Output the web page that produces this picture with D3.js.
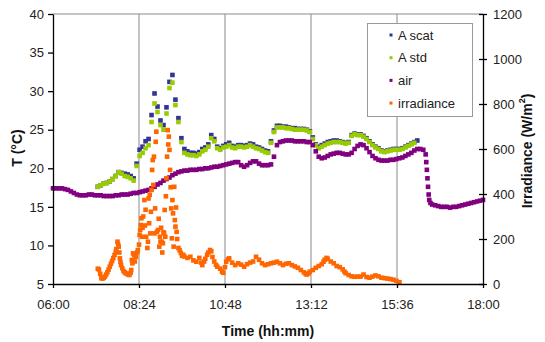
<!DOCTYPE html>
<html>
<head>
<meta charset="utf-8">
<script src="https://cdn.jsdelivr.net/npm/d3@7"></script>
<style>
  html, body { margin: 0; padding: 0; background: #fff; }
  svg { display: block; font-family: "Liberation Sans", Arial, sans-serif; }
</style>
</head>
<body>
<svg id="chart" width="545" height="342"></svg>
<script>
// ---- axis ticks ----
const timeTicks = ["06:00", "08:24", "10:48", "13:12", "15:36", "18:00"];
const tempTicks = [5, 10, 15, 20, 25, 30, 35, 40];
const irrTicks = [0, 200, 400, 600, 800, 1000, 1200];
const seriesNames = ["A scat", "A std", "air", "irradiance"];
const seriesColors = ["#333399", "#99CC00", "#800080", "#FF6600"];

// ---- logged readings: [time, value] ----
const aScat = [
  ["07:15",17.6],["07:20",17.8],["07:25",18.0],["07:30",18.1],["07:35",18.3],["07:40",18.6],["07:45",19.0],["07:50",19.5],
  ["07:55",19.4],["08:00",19.3],["08:05",19.2],["08:10",19.0],["08:15",18.7],["08:20",20.6],["08:25",22.4],["08:30",22.8],
  ["08:35",23.5],["08:40",23.8],["08:45",26.9],["08:50",29.7],["08:55",28.0],["09:00",26.2],["09:05",25.6],["09:10",27.9],
  ["09:15",31.2],["09:20",32.1],["09:25",28.9],["09:30",26.5],["09:35",23.9],["09:40",22.5],["09:45",22.2],["09:50",22.0],
  ["09:55",22.0],["10:00",21.9],["10:05",22.1],["10:10",22.5],["10:15",22.7],["10:20",23.1],["10:25",24.3],["10:30",23.8],
  ["10:35",22.8],["10:40",22.6],["10:45",22.9],["10:50",23.1],["10:55",23.3],["11:00",22.9],["11:05",22.8],["11:10",23.0],
  ["11:15",23.0],["11:20",22.9],["11:25",23.0],["11:30",23.2],["11:35",23.1],["11:40",22.8],["11:45",22.7],["11:50",22.5],
  ["11:55",22.3],["12:00",22.2],["12:05",23.5],["12:10",24.9],["12:15",25.5],["12:20",25.5],["12:25",25.4],["12:30",25.4],
  ["12:35",25.3],["12:40",25.2],["12:45",25.2],["12:50",25.1],["12:55",25.1],["13:00",25.1],["13:05",25.0],["13:10",24.8],
  ["13:15",24.0],["13:20",23.1],["13:25",22.8],["13:30",23.0],["13:35",23.2],["13:40",23.4],["13:45",23.5],["13:50",23.6],
  ["13:55",23.6],["14:00",23.5],["14:05",23.4],["14:10",23.3],["14:15",23.4],["14:20",24.3],["14:25",24.5],["14:30",24.4],
  ["14:35",24.4],["14:40",24.2],["14:45",23.9],["14:50",23.5],["14:55",23.1],["15:00",22.8],["15:05",22.6],["15:10",22.3],
  ["15:15",22.2],["15:20",22.3],["15:25",22.4],["15:30",22.5],["15:35",22.5],["15:40",22.5],["15:45",22.6],["15:50",22.8],
  ["15:55",23.0],["16:00",23.2],["16:05",23.4],["16:10",23.6]
];

const aStd = [
  ["07:15",17.6],["07:20",17.8],["07:25",18.0],["07:30",18.1],["07:35",18.3],["07:40",18.6],["07:45",19.0],["07:50",19.5],
  ["07:55",19.3],["08:00",19.0],["08:05",18.9],["08:10",18.7],["08:15",18.4],["08:20",20.3],["08:25",21.6],["08:30",22.0],
  ["08:35",22.6],["08:40",23.0],["08:45",26.0],["08:50",28.4],["08:55",27.3],["09:00",25.6],["09:05",25.0],["09:10",27.1],
  ["09:15",30.4],["09:20",31.1],["09:25",28.2],["09:30",26.0],["09:35",23.4],["09:40",22.0],["09:45",21.8],["09:50",21.7],
  ["09:55",21.7],["10:00",21.6],["10:05",21.8],["10:10",22.2],["10:15",22.4],["10:20",22.8],["10:25",23.9],["10:30",23.5],
  ["10:35",22.6],["10:40",22.4],["10:45",22.7],["10:50",22.8],["10:55",23.0],["11:00",22.7],["11:05",22.6],["11:10",22.8],
  ["11:15",22.8],["11:20",22.7],["11:25",22.8],["11:30",23.0],["11:35",22.8],["11:40",22.6],["11:45",22.5],["11:50",22.3],
  ["11:55",22.1],["12:00",22.0],["12:05",23.3],["12:10",24.7],["12:15",25.3],["12:20",25.3],["12:25",25.3],["12:30",25.2],
  ["12:35",25.2],["12:40",25.1],["12:45",25.0],["12:50",25.0],["12:55",25.0],["13:00",25.0],["13:05",24.9],["13:10",24.7],
  ["13:15",23.8],["13:20",23.0],["13:25",22.6],["13:30",22.8],["13:35",23.0],["13:40",23.2],["13:45",23.3],["13:50",23.4],
  ["13:55",23.4],["14:00",23.4],["14:05",23.3],["14:10",23.2],["14:15",23.3],["14:20",24.2],["14:25",24.4],["14:30",24.3],
  ["14:35",24.3],["14:40",24.1],["14:45",23.8],["14:50",23.4],["14:55",23.0],["15:00",22.7],["15:05",22.5],["15:10",22.2],
  ["15:15",22.1],["15:20",22.2],["15:25",22.3],["15:30",22.4],["15:35",22.4],["15:40",22.4],["15:45",22.5],["15:50",22.7],
  ["15:55",22.9],["16:00",23.1],["16:05",23.3]
];

const air = [
  ["06:00",17.4],["06:05",17.4],["06:10",17.4],["06:15",17.4],["06:20",17.3],["06:25",17.2],["06:30",17.0],["06:35",16.8],
  ["06:40",16.6],["06:45",16.5],["06:50",16.5],["06:55",16.5],["07:00",16.6],["07:05",16.6],["07:10",16.5],["07:15",16.5],
  ["07:20",16.5],["07:25",16.4],["07:30",16.4],["07:35",16.4],["07:40",16.4],["07:45",16.5],["07:50",16.5],["07:55",16.6],
  ["08:00",16.6],["08:05",16.6],["08:10",16.7],["08:15",16.8],["08:20",16.8],["08:25",16.9],["08:30",17.0],["08:35",17.1],
  ["08:40",17.2],["08:45",17.4],["08:50",17.6],["08:55",17.9],["09:00",18.1],["09:05",18.4],["09:10",18.6],["09:15",18.8],
  ["09:20",19.1],["09:25",19.3],["09:30",19.5],["09:35",19.6],["09:40",19.7],["09:45",19.7],["09:50",19.8],["09:55",19.8],
  ["10:00",19.8],["10:05",19.9],["10:10",19.9],["10:15",20.0],["10:20",20.0],["10:25",20.1],["10:30",20.2],["10:35",20.2],
  ["10:40",20.3],["10:45",20.4],["10:50",20.5],["10:55",20.6],["11:00",20.7],["11:05",20.8],["11:10",20.8],["11:15",20.4],
  ["11:20",20.2],["11:25",20.4],["11:30",20.7],["11:35",20.9],["11:40",20.9],["11:45",20.6],["11:50",20.4],["11:55",20.4],
  ["12:00",20.4],["12:05",20.5],["12:10",21.5],["12:15",23.0],["12:20",23.4],["12:25",23.5],["12:30",23.6],["12:35",23.6],
  ["12:40",23.6],["12:45",23.5],["12:50",23.5],["12:55",23.5],["13:00",23.5],["13:05",23.4],["13:10",23.4],["13:15",23.0],
  ["13:20",22.2],["13:25",21.5],["13:30",21.3],["13:35",21.4],["13:40",21.6],["13:45",21.8],["13:50",21.9],["13:55",22.0],
  ["14:00",22.0],["14:05",21.9],["14:10",21.8],["14:15",21.8],["14:20",22.0],["14:25",22.5],["14:30",22.9],["14:35",23.1],
  ["14:40",23.0],["14:45",22.6],["14:50",22.1],["14:55",21.6],["15:00",21.3],["15:05",21.1],["15:10",21.0],["15:15",21.0],
  ["15:20",21.0],["15:25",21.1],["15:30",21.1],["15:35",21.2],["15:40",21.3],["15:45",21.4],["15:50",21.6],["15:55",21.8],
  ["16:00",22.0],["16:05",22.3],["16:10",22.5],["16:15",22.5],["16:20",22.4],["16:24",21.8],["16:25",20.8],["16:26",19.8],
  ["16:27",18.7],["16:28",17.6],["16:29",16.6],["16:30",15.9],["16:32",15.5],["16:35",15.3],["16:40",15.2],["16:45",15.1],
  ["16:50",15.0],["16:55",15.0],["17:00",15.0],["17:05",14.9],["17:10",15.0],["17:15",15.0],["17:20",15.1],["17:25",15.2],
  ["17:30",15.3],["17:35",15.4],["17:40",15.5],["17:45",15.6],["17:50",15.7],["17:55",15.8],["18:00",15.9]
];

const irradiance = [
  ["07:15",68],["07:17",64],["07:19",45],["07:21",26],["07:23",24],["07:25",28],["07:27",33],["07:29",42],
  ["07:31",52],["07:33",64],["07:35",77],["07:37",90],["07:39",102],["07:41",115],["07:43",129],["07:45",142],
  ["07:46",155],["07:48",188],["07:49",176],["07:50",166],["07:51",140],["07:52",114],["07:53",98],["07:54",84],
  ["07:56",70],["07:58",58],["08:00",52],["08:02",48],["08:04",45],["08:06",42],["08:08",40],["08:10",50],
  ["08:11",62],["08:12",107],["08:13",92],["08:14",136],["08:16",128],["08:17",100],["08:19",121],["08:21",140],
  ["08:22",151],["08:24",175],["08:25",218],["08:26",240],["08:27",262],["08:28",292],["08:29",210],["08:30",250],
  ["08:31",300],["08:33",373],["08:34",260],["08:35",330],["08:36",210],["08:38",160],["08:39",188],["08:40",380],
  ["08:41",270],["08:42",396],["08:43",225],["08:44",321],["08:45",418],["08:46",507],["08:47",551],["08:48",440],
  ["08:49",566],["08:50",225],["08:51",336],["08:52",632],["08:53",677],["08:54",232],["08:56",240],["08:57",290],
  ["08:58",166],["08:59",210],["09:00",188],["09:01",250],["09:02",188],["09:03",140],["09:04",181],["09:05",230],
  ["09:06",225],["09:07",329],["09:08",210],["09:09",390],["09:10",470],["09:11",566],["09:12",684],["09:13",620],
  ["09:14",655],["09:15",596],["09:16",507],["09:17",430],["09:18",336],["09:19",203],["09:20",373],["09:21",314],
  ["09:22",166],["09:23",432],["09:24",284],["09:25",255],["09:26",340],["09:27",232],["09:28",200],["09:30",160],
  ["09:32",150],["09:34",138],["09:36",125],["09:38",130],["09:40",122],["09:45",116],["09:50",121],["09:55",105],
  ["10:00",99],["10:05",116],["10:08",95],["10:10",84],["10:13",100],["10:15",112],["10:18",130],["10:20",140],
  ["10:23",151],["10:25",145],["10:27",120],["10:30",100],["10:33",85],["10:35",77],["10:40",68],["10:43",55],
  ["10:45",50],["10:48",75],["10:50",99],["10:53",110],["10:55",114],["11:00",95],["11:05",84],["11:10",92],
  ["11:15",86],["11:20",77],["11:25",88],["11:30",95],["11:35",100],["11:40",121],["11:45",108],["11:50",92],
  ["11:55",84],["12:00",88],["12:05",92],["12:10",95],["12:15",99],["12:20",92],["12:25",84],["12:30",90],
  ["12:35",92],["12:40",84],["12:45",78],["12:50",72],["12:55",62],["13:00",52],["13:03",45],["13:05",42],
  ["13:08",47],["13:10",55],["13:15",62],["13:20",72],["13:25",80],["13:30",88],["13:33",99],["13:35",108],
  ["13:38",116],["13:40",112],["13:45",100],["13:50",92],["13:55",80],["14:00",75],["14:05",65],["14:08",55],
  ["14:10",48],["14:15",40],["14:20",34],["14:25",32],["14:30",33],["14:35",33],["14:40",42],["14:45",31],
  ["14:50",28],["14:55",33],["15:00",38],["15:05",34],["15:10",28],["15:15",26],["15:20",24],["15:25",22],
  ["15:30",19],["15:35",14],["15:40",8]
];

// ---- layout ----
const svg = d3.select("#chart");
const plot = { left: 53, right: 483, top: 14, bottom: 284 };
const toMin = s => { const [h, m] = s.split(":"); return +h * 60 + +m; };

const x = d3.scaleLinear()
  .domain([toMin(timeTicks[0]), toMin(timeTicks[timeTicks.length - 1])])
  .range([plot.left, plot.right]);
const yT = d3.scaleLinear()
  .domain([tempTicks[0], tempTicks[tempTicks.length - 1]])
  .range([plot.bottom, plot.top]);
const yI = d3.scaleLinear()
  .domain([irrTicks[0], irrTicks[irrTicks.length - 1]])
  .range([plot.bottom, plot.top]);

// vertical gridlines and top frame
svg.append("g").selectAll("line")
  .data(timeTicks.slice(1, -1))
  .join("line")
  .attr("x1", d => x(toMin(d))).attr("x2", d => x(toMin(d)))
  .attr("y1", plot.top).attr("y2", plot.bottom)
  .attr("stroke", "#8a8a8a").attr("stroke-width", 1);
svg.append("line")
  .attr("x1", plot.left).attr("x2", plot.right)
  .attr("y1", plot.top).attr("y2", plot.top)
  .attr("stroke", "#8a8a8a").attr("stroke-width", 1);

// ---- series (square markers) ----
const M = 4.6;
function drawSeries(data, yScale, color) {
  svg.append("g").selectAll("rect")
    .data(data)
    .join("rect")
    .attr("x", d => x(toMin(d[0])) - M / 2)
    .attr("y", d => yScale(d[1]) - M / 2)
    .attr("width", M).attr("height", M)
    .attr("fill", color);
}
drawSeries(aScat, yT, seriesColors[0]);
drawSeries(aStd, yT, seriesColors[1]);
drawSeries(air, yT, seriesColors[2]);
drawSeries(irradiance, yI, seriesColors[3]);

// ---- axes ----
const tickFont = 13;
function styleAxis(g) {
  g.select(".domain").attr("stroke", "#000").attr("stroke-width", 1.3);
  g.selectAll(".tick line").attr("stroke", "#000").attr("stroke-width", 1.3);
  g.selectAll(".tick text").attr("fill", "#222").attr("font-size", tickFont)
    .attr("font-family", '"Liberation Sans", Arial, sans-serif');
}

svg.append("g")
  .attr("transform", `translate(${plot.left},0)`)
  .call(d3.axisLeft(yT).tickValues(tempTicks).tickFormat(d3.format("d"))
    .tickSize(5).tickSizeOuter(0).tickPadding(4))
  .call(styleAxis);

svg.append("g")
  .attr("transform", `translate(0,${plot.bottom})`)
  .call(d3.axisBottom(x).tickValues(timeTicks.map(toMin))
    .tickFormat((d, i) => timeTicks[i]).tickSize(4).tickSizeOuter(0).tickPadding(12))
  .call(styleAxis);

const gRight = svg.append("g")
  .attr("transform", `translate(${plot.right},0)`)
  .call(d3.axisRight(yI).tickValues(irrTicks).tickFormat(d3.format("d"))
    .tickSize(4).tickSizeOuter(0).tickPadding(6))
  .call(styleAxis);
gRight.selectAll(".tick line").attr("x1", -4);

// ---- axis titles ----
svg.append("text")
  .attr("transform", `translate(17,148) rotate(-90)`)
  .attr("text-anchor", "middle").attr("dominant-baseline", "central")
  .attr("font-size", 14).attr("font-weight", "bold").attr("fill", "#111")
  .text("T (°C)");

svg.append("text")
  .attr("x", 268).attr("y", 336)
  .attr("text-anchor", "middle")
  .attr("font-size", 14).attr("font-weight", "bold").attr("fill", "#111")
  .text("Time (hh:mm)");

const rt = svg.append("text")
  .attr("transform", `translate(527,151) rotate(-90)`)
  .attr("text-anchor", "middle").attr("dominant-baseline", "central")
  .attr("font-size", 14).attr("font-weight", "bold").attr("fill", "#111");
rt.append("tspan").text("Irradiance (W/m");
rt.append("tspan").attr("font-size", 9).attr("baseline-shift", "super").text("2");
rt.append("tspan").text(")");

// ---- legend ----
const legend = svg.append("g");
legend.append("rect")
  .attr("x", 367.5).attr("y", 23.5).attr("width", 105).attr("height", 93)
  .attr("fill", "#fff").attr("stroke", "#9a9a9a").attr("stroke-width", 1);
const lg = legend.selectAll("g.item")
  .data(seriesNames)
  .join("g").attr("class", "item")
  .attr("transform", (d, i) => `translate(391,${35 + i * 22.7})`);
lg.append("rect")
  .attr("x", -1.5).attr("y", -1.5).attr("width", 3).attr("height", 3)
  .attr("fill", (d, i) => seriesColors[i]);
lg.append("text")
  .attr("x", 7).attr("dy", "0.35em")
  .attr("font-size", 13).attr("fill", "#222")
  .text(d => d);
</script>
</body>
</html>
